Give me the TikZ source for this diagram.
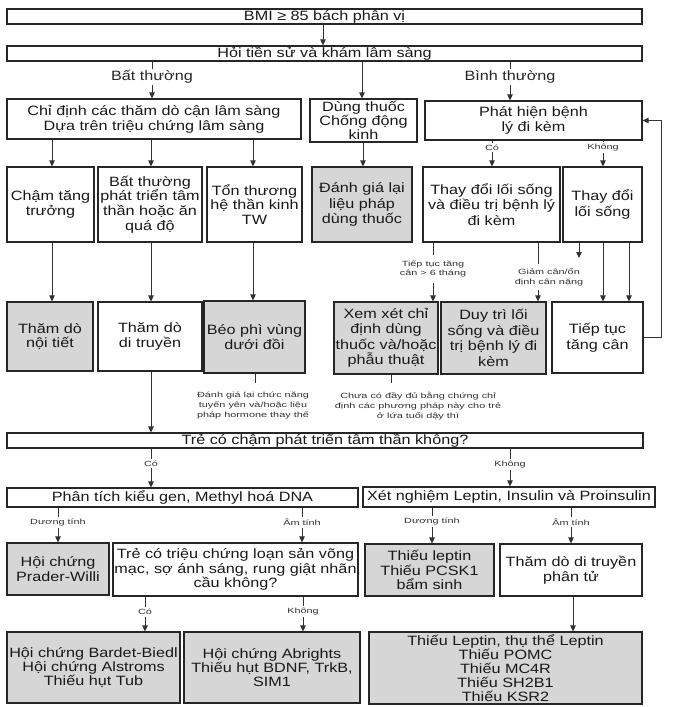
\documentclass[tikz,border=0pt]{standalone}
\usepackage{fontspec}
\setmainfont{Liberation Sans}[FakeStretch=1.2]
\newfontfamily\tinyf{Liberation Sans}[FakeStretch=1.45]
\usetikzlibrary{arrows.meta}
\tikzset{
  box/.style={draw=black!85, line width=1.1pt, inner sep=0pt, align=center,
    font=\fontsize{13.5}{14.6}\selectfont, text=black!90, anchor=center},
  gbox/.style={box, fill=black!16},
  arr/.style={draw=black!80, line width=0.8pt, -{Triangle[width=5.5pt,length=6pt]}},
  ln/.style={draw=black!80, line width=0.8pt},
  lbl/.style={fill=white, inner sep=1.5pt, font=\fontsize{13.5}{15}\selectfont, text=black!85},
  tlbl/.style={fill=white, inner xsep=1pt, inner ysep=2pt, align=center,
    font=\tinyf\fontsize{7.5}{9.5}\selectfont, text=black!80},
  note/.style={inner xsep=1pt, inner ysep=9pt, align=center,
    font=\tinyf\fontsize{7.5}{10}\selectfont, text=black!80},
}
\begin{document}
\begin{tikzpicture}[x=1pt,y=-1pt]
\fill[white] (0,0) rectangle (676,707);
\useasboundingbox (0,0) rectangle (676,707);

% row 1-2
\node[box, minimum width=635pt, minimum height=15pt] (bmi) at (324.5,16.5) {BMI ≥ 85 bách phân vị};
\node[box, minimum width=635pt, minimum height=15pt] (hoi) at (324.5,53.5) {Hỏi tiền sử và khám lâm sàng};

% row 3
\node[box, minimum width=294pt, minimum height=40pt] (chidinh) at (154,119) {Chỉ định các thăm dò cận lâm sàng\\Dựa trên triệu chứng lâm sàng};
\node[box, minimum width=107pt, minimum height=43pt, font=\fontsize{13.5}{14}\selectfont] (dung) at (363.5,120.5) {Dùng thuốc\\Chống động\\kinh};
\node[box, minimum width=217pt, minimum height=39pt] (phat) at (533.5,120.5) {Phát hiện bệnh\\lý đi kèm};

% row 4
\node[box, minimum width=87pt, minimum height=75pt] (cham) at (50.5,204.5) {Chậm tăng\\trưởng};
\node[box, minimum width=104pt, minimum height=75pt] (batth) at (150,204.5) {Bất thường\\phát triển tâm\\thần hoặc ăn\\quá độ};
\node[box, minimum width=95pt, minimum height=75pt] (tonth) at (254.5,204.5) {Tổn thương\\hệ thần kinh\\TW};
\node[gbox, minimum width=100pt, minimum height=75pt, font=\fontsize{13.5}{15.5}\selectfont] (danhgia) at (362,204.5) {Đánh giá lại\\liệu pháp\\dùng thuốc};
\node[box, minimum width=137pt, minimum height=75pt, font=\fontsize{13.5}{15.5}\selectfont] (thay1) at (491.5,204.5) {Thay đổi lối sống\\và điều trị bệnh lý\\đi kèm};
\node[box, minimum width=79pt, minimum height=75pt, font=\fontsize{13.5}{16}\selectfont] (thay2) at (602.5,204.5) {Thay đổi\\lối sống};

% row 5
\node[gbox, minimum width=86pt, minimum height=69pt] (noitiet) at (50,336.5) {Thăm dò\\nội tiết};
\node[box, minimum width=104pt, minimum height=69pt] (ditruyen) at (150,336.5) {Thăm dò\\di truyền};
\node[gbox, minimum width=101pt, minimum height=72pt] (beophi) at (254.5,337) {Béo phì vùng\\dưới đồi};
\node[gbox, minimum width=104pt, minimum height=72pt, font=\fontsize{13.5}{15.5}\selectfont] (xemxet) at (386,338) {Xem xét chỉ\\định dùng\\thuốc và/hoặc\\phẫu thuật};
\node[gbox, minimum width=105pt, minimum height=72pt, font=\fontsize{13.5}{15.5}\selectfont] (duytri) at (493.5,338) {Duy trì lối\\sống và điều\\trị bệnh lý đi\\kèm};
\node[box, minimum width=91pt, minimum height=71pt, font=\fontsize{13.5}{16}\selectfont] (tieptuc) at (597.5,337.5) {Tiếp tục\\tăng cân};

% notes
\node[note] (note2) at (253,406) {Đánh giá lại chức năng\\tuyến yên và/hoặc liệu\\pháp hormone thay thế};
\node[note] (note1) at (418,406) {Chưa có đầy đủ bằng chứng chỉ\\định các phương pháp này cho trẻ\\ở lứa tuổi dậy thì};

% row 6
\node[box, minimum width=636pt, minimum height=15pt] (treco) at (325,440.5) {Trẻ có chậm phát triển tâm thần không?};
\node[box, minimum width=351pt, minimum height=19pt] (phantich) at (182.5,497.5) {Phân tích kiểu gen, Methyl hoá DNA};
\node[box, minimum width=292pt, minimum height=20pt] (xetng) at (509,497) {Xét nghiệm Leptin, Insulin và Proinsulin};

% row 7
\node[gbox, minimum width=102pt, minimum height=52pt] (prader) at (58,569) {Hội chứng\\Prader-Willi};
\node[box, minimum width=245pt, minimum height=53pt] (trecotc) at (235.5,569.5) {Trẻ có triệu chứng loạn sản võng\\mạc, sợ ánh sáng, rung giật nhãn\\cầu không?};
\node[gbox, minimum width=129pt, minimum height=52pt] (thieulep) at (429.5,570) {Thiếu leptin\\Thiếu PCSK1\\bẩm sinh};
\node[box, minimum width=142pt, minimum height=52pt] (phantu) at (571,570) {Thăm dò di truyền\\phân tử};

% row 8
\node[gbox, minimum width=173pt, minimum height=71pt, font=\fontsize{13.5}{14.3}\selectfont] (bardet) at (93.5,667.5) {Hội chứng Bardet-Biedl\\Hội chứng Alstroms\\Thiếu hụt Tub};
\node[gbox, minimum width=176pt, minimum height=71pt, font=\fontsize{13.5}{14.3}\selectfont] (abr) at (272,667.5) {Hội chứng Abrights\\Thiếu hụt BDNF, TrkB,\\SIM1};
\node[gbox, minimum width=273pt, minimum height=72pt, font=\fontsize{13.5}{14}\selectfont] (bigl) at (505.5,668) {Thiếu Leptin, thụ thể Leptin\\Thiếu POMC\\Thiếu MC4R\\Thiếu SH2B1\\Thiếu KSR2};

% connectors
\draw[arr] (bmi.south -| 323,0) -- (hoi.north -| 323,0);
\draw[arr] (hoi.south -| 152,0) -- node[lbl, pos=0.42] {Bất thường} (chidinh.north -| 152,0);
\draw[arr] (hoi.south -| 362,0) -- (dung.north -| 362,0);
\draw[arr] (hoi.south -| 510,0) -- node[lbl, pos=0.4] {Bình thường} (phat.north -| 510,0);

\draw[arr] (chidinh.south -| 52,0) -- (cham.north -| 52,0);
\draw[arr] (chidinh.south -| 151,0) -- (batth.north -| 151,0);
\draw[arr] (chidinh.south -| 253,0) -- (tonth.north -| 253,0);
\draw[arr] (dung.south -| 363,0) -- (danhgia.north -| 363,0);
\draw[arr] (phat.south -| 492,0) -- node[tlbl, pos=0.27] {Có} (thay1.north -| 492,0);
\draw[arr] (phat.south -| 603,0) -- node[tlbl, pos=0.27] {Không} (thay2.north -| 603,0);

\draw[arr] (cham.south -| 52,0) -- (noitiet.north -| 52,0);
\draw[arr] (batth.south -| 151,0) -- (ditruyen.north -| 151,0);
\draw[arr] (tonth.south -| 253,0) -- (beophi.north -| 253,0);

\draw[arr] (thay1.south -| 433,0) -- node[tlbl, pos=0.45, inner ysep=6pt] {Tiếp tục tăng\\cân > 6 tháng} (xemxet.north -| 433,0);
\draw[arr] (thay1.south -| 538,0) -- (duytri.north -| 538,0);
\node[tlbl, inner ysep=4pt] (giam) at (549,277) {Giảm cân/ổn\\định cân nặng};
\coordinate (tdend) at (579,258);
\draw[arr] (thay2.south -| tdend) -- (tdend);
\draw[arr] (thay2.south -| 603,0) -- (tieptuc.north -| 603,0);
\draw[arr] (thay2.south -| 629,0) -- (tieptuc.north -| 629,0);
\draw[arr] (tieptuc.east) -- ++(17.5,0) |- (phat.east);

\draw[ln] (beophi.south -| 255,0) -- (note2.north -| 255,0);
\draw[ln] (xemxet.south -| 391,0) -- (note1.north -| 391,0);

\draw[arr] (ditruyen.south -| 151,0) -- (treco.north -| 151,0);
\draw[arr] (treco.south -| 151,0) -- node[tlbl, pos=0.38] {Có} (phantich.north -| 151,0);
\draw[arr] (treco.south -| 510,0) -- node[tlbl, pos=0.42] {Không} (xetng.north -| 510,0);

\draw[arr] (phantich.south -| 58,0) -- node[tlbl, pos=0.42] {Dương tính} (prader.north -| 58,0);
\draw[arr] (phantich.south -| 302,0) -- node[tlbl, pos=0.42] {Âm tính} (trecotc.north -| 302,0);
\draw[arr] (xetng.south -| 432,0) -- node[tlbl, pos=0.4] {Dương tính} (thieulep.north -| 432,0);
\draw[arr] (xetng.south -| 571,0) -- node[tlbl, pos=0.4] {Âm tính} (phantu.north -| 571,0);

\draw[arr] (trecotc.south -| 145,0) -- node[tlbl, pos=0.44] {Có} (bardet.north -| 145,0);
\draw[arr] (trecotc.south -| 303,0) -- node[tlbl, pos=0.44] {Không} (abr.north -| 303,0);
\draw[arr] (phantu.south -| 573,0) -- (bigl.north -| 573,0);
\end{tikzpicture}
\end{document}
